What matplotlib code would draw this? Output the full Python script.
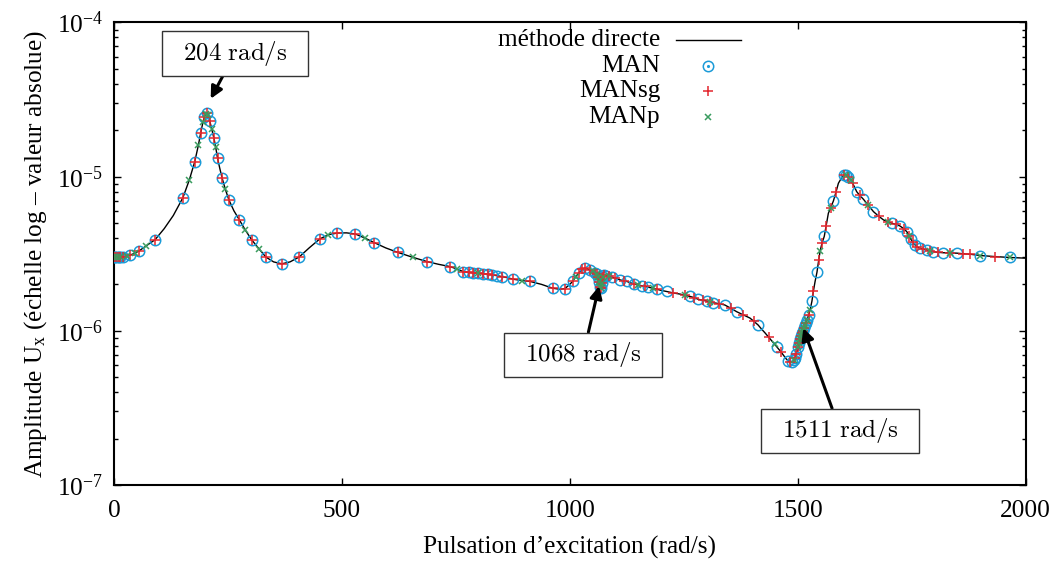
import numpy as np
import matplotlib
matplotlib.use("Agg")
import matplotlib.pyplot as plt
from matplotlib.path import Path
from matplotlib.ticker import LogLocator, NullFormatter

plt.rcParams['font.family'] = ['Liberation Serif', 'DejaVu Serif']
plt.rcParams['mathtext.fontset'] = 'custom'
plt.rcParams['mathtext.rm'] = 'Liberation Serif'
plt.rcParams['mathtext.it'] = 'Liberation Serif:italic'

# courbe de référence (méthode directe) : pulsation (rad/s) et amplitude
omega = [0, 3, 6, 10, 14, 20, 28, 35, 45, 55, 70, 90, 110, 130, 151, 165, 177, 185,
         190, 195, 198, 201, 204, 207, 210, 214, 219, 223, 227, 232, 237, 244, 252,
         263, 275, 288, 302, 318, 333, 350, 368, 386, 406, 428, 451, 470, 490, 510,
         529, 550, 571, 596, 622, 655, 687, 712, 737, 752, 766, 778, 788, 799, 810,
         820, 829, 840, 850, 863, 876, 895, 913, 938, 962, 978, 989, 998, 1006, 1013,
         1020, 1027, 1033, 1039, 1044, 1050, 1055, 1059, 1062, 1064, 1066, 1068, 1070,
         1072, 1075, 1080, 1086, 1092, 1100, 1110, 1118, 1125, 1133, 1141, 1150, 1158,
         1165, 1172, 1182, 1191, 1200, 1212, 1227, 1242, 1253, 1264, 1273, 1282, 1291,
         1300, 1308, 1315, 1328, 1340, 1353, 1366, 1380, 1395, 1404, 1413, 1420, 1428,
         1436, 1443, 1449, 1455, 1463, 1470, 1475, 1479, 1483, 1488, 1491, 1494, 1497,
         1501, 1503, 1505, 1507, 1509, 1511, 1513, 1515, 1517, 1520, 1524, 1527, 1531,
         1534, 1538, 1542, 1546, 1549, 1553, 1558, 1562, 1567, 1572, 1578, 1584, 1589,
         1594, 1597, 1601, 1606, 1611, 1616, 1620, 1625, 1629, 1636, 1644, 1655, 1666,
         1677, 1688, 1697, 1706, 1715, 1724, 1732, 1739, 1744, 1748, 1752, 1757, 1762,
         1768, 1775, 1783, 1790, 1797, 1808, 1819, 1834, 1849, 1863, 1878, 1900, 1933,
         1966, 2000]
amplitude = [3.00e-6, 3.00e-6, 3.00e-6, 3.01e-6, 3.01e-6, 3.03e-6, 3.06e-6, 3.10e-6,
             3.18e-6, 3.30e-6, 3.55e-6, 3.90e-6, 4.6e-6, 5.6e-6, 7.3e-6, 9.5e-6,
             1.25e-5, 1.6e-5, 1.92e-5, 2.25e-5, 2.45e-5, 2.55e-5, 2.58e-5, 2.5e-5,
             2.3e-5, 2.05e-5, 1.78e-5, 1.55e-5, 1.32e-5, 1.13e-5, 9.8e-6, 8.3e-6,
             7.06e-6, 6.0e-6, 5.24e-6, 4.5e-6, 3.89e-6, 3.4e-6, 3.01e-6, 2.8e-6,
             2.72e-6, 2.8e-6, 3.01e-6, 3.45e-6, 3.94e-6, 4.2e-6, 4.31e-6, 4.32e-6,
             4.25e-6, 4.0e-6, 3.73e-6, 3.45e-6, 3.23e-6, 3.0e-6, 2.81e-6, 2.7e-6,
             2.61e-6, 2.52e-6, 2.42e-6, 2.40e-6, 2.38e-6, 2.37e-6, 2.35e-6, 2.33e-6,
             2.31e-6, 2.28e-6, 2.25e-6, 2.21e-6, 2.16e-6, 2.12e-6, 2.09e-6, 2.0e-6,
             1.89e-6, 1.86e-6, 1.88e-6, 1.98e-6, 2.09e-6, 2.25e-6, 2.38e-6, 2.50e-6,
             2.55e-6, 2.52e-6, 2.48e-6, 2.43e-6, 2.38e-6, 2.32e-6, 2.22e-6, 2.08e-6,
             1.92e-6, 1.9e-6, 2.05e-6, 2.25e-6, 2.30e-6, 2.28e-6, 2.26e-6, 2.23e-6,
             2.19e-6, 2.14e-6, 2.11e-6, 2.09e-6, 2.05e-6, 2.01e-6, 1.98e-6, 1.96e-6,
             1.94e-6, 1.92e-6, 1.89e-6, 1.86e-6, 1.83e-6, 1.80e-6, 1.76e-6, 1.73e-6,
             1.70e-6, 1.67e-6, 1.64e-6, 1.60e-6, 1.58e-6, 1.56e-6, 1.54e-6, 1.52e-6,
             1.50e-6, 1.47e-6, 1.40e-6, 1.33e-6, 1.27e-6, 1.21e-6, 1.15e-6, 1.09e-6,
             1.03e-6, 9.7e-7, 9.1e-7, 8.6e-7, 8.2e-7, 7.8e-7, 7.3e-7, 6.85e-7, 6.55e-7,
             6.38e-7, 6.25e-7, 6.3e-7, 6.45e-7, 6.7e-7, 7.1e-7, 7.9e-7, 8.3e-7, 8.8e-7,
             9.3e-7, 9.7e-7, 1.0e-6, 1.04e-6, 1.09e-6, 1.13e-6, 1.18e-6, 1.27e-6,
             1.37e-6, 1.56e-6, 1.8e-6, 2.1e-6, 2.4e-6, 2.9e-6, 3.3e-6, 3.7e-6, 4.1e-6,
             4.8e-6, 5.79e-6, 6.3e-6, 6.95e-6, 8.0e-6, 9.06e-6, 9.62e-6, 9.95e-6,
             1.02e-5, 1.02e-5, 9.9e-6, 9.5e-6, 9.06e-6, 8.5e-6, 8.0e-6, 7.55e-6,
             7.13e-6, 6.5e-6, 5.93e-6, 5.55e-6, 5.24e-6, 5.1e-6, 4.99e-6, 4.9e-6,
             4.79e-6, 4.6e-6, 4.40e-6, 4.15e-6, 3.93e-6, 3.75e-6, 3.61e-6, 3.5e-6,
             3.43e-6, 3.38e-6, 3.35e-6, 3.3e-6, 3.26e-6, 3.23e-6, 3.21e-6, 3.2e-6,
             3.19e-6, 3.16e-6, 3.14e-6, 3.08e-6, 3.03e-6, 2.99e-6, 2.96e-6]

# pulsations des points calculés par chaque méthode (pris sur la courbe)
omega_man = [0, 3, 6, 10, 14, 20, 35, 55, 90, 151, 177, 190, 198, 204, 210, 219, 227,
             237, 252, 275, 302, 333, 368, 406, 451, 490, 529, 571, 622, 687, 737, 766,
             778, 788, 799, 810, 820, 829, 840, 850, 876, 913, 962, 989, 1006, 1020,
             1033, 1044, 1055, 1059, 1062, 1064, 1066, 1068, 1070, 1072, 1075, 1080,
             1092, 1110, 1125, 1141, 1158, 1172, 1191, 1212, 1264, 1282, 1300, 1315,
             1340, 1366, 1413, 1455, 1479, 1488, 1491, 1494, 1497, 1501, 1503, 1505,
             1507, 1509, 1511, 1513, 1515, 1517, 1520, 1524, 1531, 1542, 1558, 1578,
             1601, 1606, 1611, 1629, 1644, 1666, 1706, 1724, 1739, 1748, 1757, 1768,
             1783, 1797, 1819, 1849, 1900, 1966]
omega_mansg = [0, 3, 6, 10, 14, 20, 35, 55, 90, 151, 177, 190, 198, 204, 210, 219, 227,
               237, 252, 275, 302, 333, 368, 406, 451, 490, 529, 571, 622, 687, 737,
               766, 778, 788, 799, 810, 820, 829, 850, 876, 913, 962, 989, 1006, 1020,
               1027, 1033, 1044, 1055, 1059, 1062, 1064, 1066, 1068, 1070, 1072, 1075,
               1086, 1100, 1118, 1141, 1165, 1191, 1227, 1253, 1273, 1291, 1308, 1328,
               1353, 1380, 1404, 1436, 1463, 1483, 1494, 1497, 1501, 1503, 1505, 1507,
               1509, 1511, 1513, 1517, 1524, 1534, 1546, 1553, 1562, 1572, 1584, 1601,
               1611, 1620, 1636, 1655, 1677, 1697, 1715, 1732, 1744, 1752, 1762, 1775,
               1790, 1808, 1834, 1863, 1878, 1933]
omega_manp = [0, 6, 14, 28, 45, 70, 165, 185, 195, 201, 207, 214, 223, 244, 288, 318,
              470, 550, 655, 752, 799, 895, 1013, 1050, 1059, 1062, 1064, 1066, 1068,
              1070, 1072, 1086, 1150, 1182, 1253, 1308, 1449, 1491, 1501, 1503, 1505,
              1507, 1509, 1511, 1513, 1515, 1520, 1527, 1549, 1572, 1606, 1616, 1655,
              1697, 1744, 1790, 1834, 1900, 1966]

# pics annotés : pulsation, amplitude pointée, position de l'étiquette
pics = [204, 1068, 1511]
pics_xy = [(212, 3.2e-5), (1064, 1.95e-6), (1512, 1.04e-6)]
pics_box = [(265, 6.3e-5), (1029, 6.98e-7), (1593, 2.24e-7)]

amp = dict(zip(omega, amplitude))

bleu = '#1b9bd8'
rouge = '#e3262d'
vert = '#3a9c5f'
fs = 18.2


def cadre(x0, y0, width, height, mutation_size):
    # rectangle plus large que haut autour du texte
    px, py = 0.82 * mutation_size, 0.31 * mutation_size
    x0, y0 = x0 - px, y0 - py
    x1, y1 = x0 + width + 2 * px, y0 + height + 2 * py
    return Path([(x0, y0), (x1, y0), (x1, y1), (x0, y1), (x0, y0)],
                closed=True)


fig = plt.figure(figsize=(10.59, 5.65), dpi=100)
ax = fig.add_axes([0.1077, 0.1416, 0.8609, 0.8186])

ax.plot(omega, amplitude, color='black', lw=1.0, zorder=2)
ax.plot(omega_man, [amp[w] for w in omega_man], ls='none', marker='o', ms=7.5,
        mfc='none', mec=bleu, mew=1.1, zorder=3)
ax.plot(omega_mansg, [amp[w] for w in omega_mansg], ls='none', marker='+', ms=7.5,
        mec=rouge, mew=1.1, zorder=4)
ax.plot(omega_manp, [amp[w] for w in omega_manp], ls='none', marker='x', ms=5,
        mec=vert, mew=1.1, zorder=5)

ax.set_yscale('log')
ax.set_xlim(0, 2000)
ax.set_ylim(1e-7, 1e-4)
ax.set_xticks([0, 500, 1000, 1500, 2000])
ax.yaxis.set_major_locator(LogLocator(base=10, numticks=10))
ax.yaxis.set_minor_locator(LogLocator(base=10, subs=np.arange(2, 10), numticks=10))
ax.yaxis.set_minor_formatter(NullFormatter())
ax.tick_params(which='both', direction='in', top=True, right=True,
               labelsize=fs, width=1.0)
ax.tick_params(which='major', length=5, pad=11)
ax.tick_params(which='minor', length=3)
ax.tick_params(axis='y', which='major', pad=8)
for s in ax.spines.values():
    s.set_linewidth(1.5)

ax.set_xlabel("Pulsation d\u2019excitation (rad/s)", fontsize=fs, labelpad=10)
ax.set_ylabel(r"Amplitude U$_{\mathrm{x}}$ (échelle log – valeur absolue)",
              fontsize=fs, labelpad=6)

for p, xy, box in zip(pics, pics_xy, pics_box):
    ax.annotate(r"$%d\ \mathrm{rad/s}$" % p, xy=xy, xytext=box,
                ha='center', va='center', fontsize=18, math_fontfamily='cm',
                bbox=dict(boxstyle=cadre, fc='white', ec='#333333', lw=1.0),
                arrowprops=dict(arrowstyle='-|>', color='black', lw=2.2,
                                mutation_scale=18, shrinkA=0, shrinkB=0),
                zorder=10)

# légende façon gnuplot : texte aligné à droite, symbole à droite
tx, mx = 0.599, 0.652
ax.text(tx, 0.962, "méthode directe", transform=ax.transAxes, ha='right',
        va='center', fontsize=fs)
ax.plot([0.616, 0.688], [0.962, 0.962], transform=ax.transAxes, color='black', lw=1.0)
ax.text(tx, 0.906, "MAN", transform=ax.transAxes, ha='right', va='center', fontsize=fs)
ax.plot([mx], [0.906], transform=ax.transAxes, marker='o', ms=7.5, mfc='none',
        mec=bleu, mew=1.1)
ax.plot([mx], [0.906], transform=ax.transAxes, marker='.', ms=2.5, color=bleu)
ax.text(tx, 0.852, "MANsg", transform=ax.transAxes, ha='right', va='center', fontsize=fs)
ax.plot([mx], [0.852], transform=ax.transAxes, marker='+', ms=7.5, mec=rouge, mew=1.1)
ax.text(tx, 0.796, "MANp", transform=ax.transAxes, ha='right', va='center', fontsize=fs)
ax.plot([mx], [0.796], transform=ax.transAxes, marker='x', ms=5, mec=vert, mew=1.1)

fig.savefig('out.png', dpi=100)
